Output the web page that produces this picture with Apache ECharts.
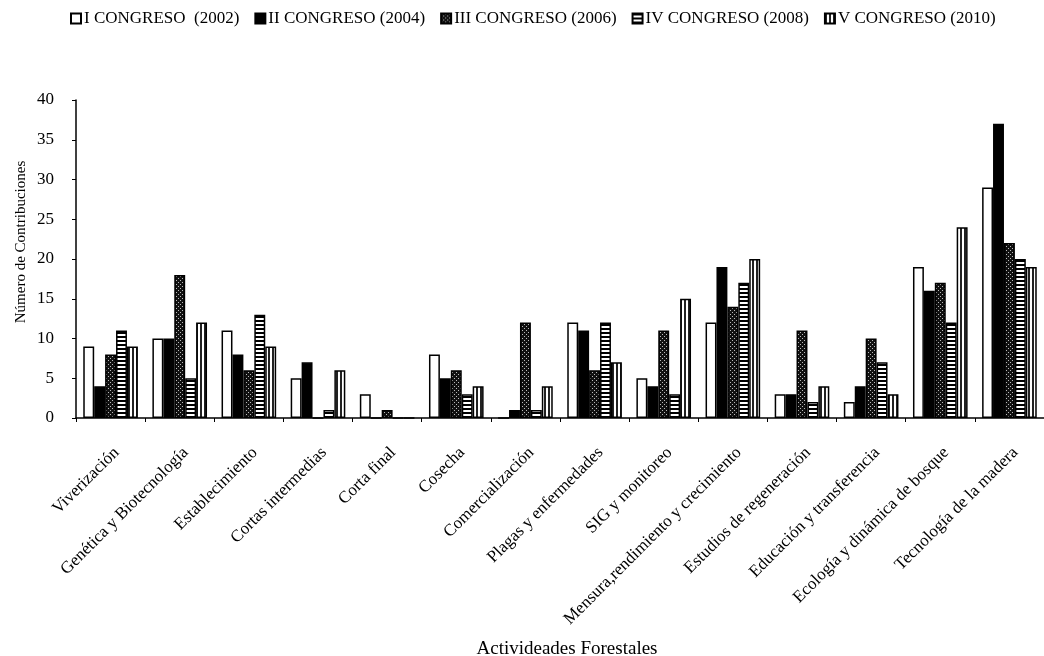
<!DOCTYPE html>
<html><head><meta charset="utf-8">
<script src="https://cdn.jsdelivr.net/npm/echarts@6/dist/echarts.min.js"></script>
<style>html,body{margin:0;padding:0;background:#fff}#c{width:1044px;height:656px}</style>
</head><body><div id="c"></div>
<script>
const categories = ['Viverización','Genética y Biotecnología','Establecimiento','Cortas intermedias','Corta final','Cosecha','Comercialización','Plagas y enfermedades','SIG y monitoreo','Mensura,rendimiento y crecimiento','Estudios de regeneración','Educación y transferencia','Ecología y dinámica de bosque','Tecnología de la madera'];
const seriesNames = ['I CONGRESO  (2002)','II CONGRESO (2004)','III CONGRESO (2006)','IV CONGRESO (2008)','V CONGRESO (2010)'];
const congreso1 = [9,10,11,5,3,8,0,12,5,12,3,2,19,29];
const congreso2 = [4,10,8,7,0,5,1,11,4,19,3,4,16,37];
const congreso3 = [8,18,6,0,1,6,12,6,11,14,11,10,17,22];
const congreso4 = [11,5,13,1,0,3,1,12,3,17,2,7,12,20];
const congreso5 = [9,12,9,6,0,4,4,7,15,20,4,3,24,19];
const yTicks = [0,5,10,15,20,25,30,35,40];
const xTitle = 'Activideades Forestales';
const yTitle = 'Número de Contribuciones';

function pat(kind){
  const c=document.createElement('canvas');c.width=4;c.height=4;const g=c.getContext('2d');
  if(kind==='dots'){g.fillStyle='#111';g.fillRect(0,0,4,4);g.fillStyle='#bbb';g.fillRect(0,0,1,1);g.fillRect(2,2,1,1);}
  else if(kind==='h'){g.fillStyle='#fff';g.fillRect(0,0,4,4);g.fillStyle='#000';g.fillRect(0,0,4,2);}
  else if(kind==='v'){g.fillStyle='#fff';g.fillRect(0,0,4,4);g.fillStyle='#222';g.fillRect(0,0,2,4);}
  return {image:c,repeat:'repeat'};
}
const fills=['#ffffff','#000000',pat('dots'),pat('h'),pat('v')];
const data=[congreso1,congreso2,congreso3,congreso4,congreso5];
const font='"Liberation Serif", "DejaVu Serif", serif';
const chart=echarts.init(document.getElementById('c'));
chart.setOption({
  animation:false,
  textStyle:{fontFamily:font},
  title:{text:xTitle,left:562,textAlign:'center',top:635,textStyle:{fontFamily:font,fontSize:19,fontWeight:'normal',color:'#000'}},
  graphic:[{type:'text',x:21,y:242,rotation:Math.PI/2,
    style:{text:yTitle,font:'15px "Liberation Serif", serif',fill:'#000',align:'center',verticalAlign:'middle'}}],
  legend:{top:5,left:65,itemWidth:10,itemHeight:10,itemGap:15,
    textStyle:{fontFamily:font,fontSize:17,color:'#000',padding:[0,0,0,-2]},
    data:seriesNames.map(n=>({name:n,icon:'rect'}))},
  grid:{left:76,right:-5,top:100,bottom:238,containLabel:false},
  xAxis:{type:'category',data:categories,
    axisLine:{lineStyle:{color:'#000',width:1.5}},
    axisTick:{show:true,length:4,lineStyle:{color:'#000'}},
    axisLabel:{rotate:45,interval:0,fontFamily:font,fontSize:17,color:'#000',margin:26,verticalAlign:'top'}},
  yAxis:{type:'value',min:0,max:40,interval:5,
    axisLine:{show:true,lineStyle:{color:'#000',width:1.5}},
    axisTick:{show:true,length:4,lineStyle:{color:'#000'}},
    splitLine:{show:false},
    axisLabel:{fontFamily:font,fontSize:17,color:'#000',margin:22,formatter:v=>yTicks.includes(v)?String(v):''}},
  series:seriesNames.map((n,i)=>({name:n,type:'bar',data:data[i],barGap:'0%',barCategoryGap:'21%',
    itemStyle:{color:fills[i],borderColor:'#000',borderWidth:1.5}}))
});
</script></body></html>
